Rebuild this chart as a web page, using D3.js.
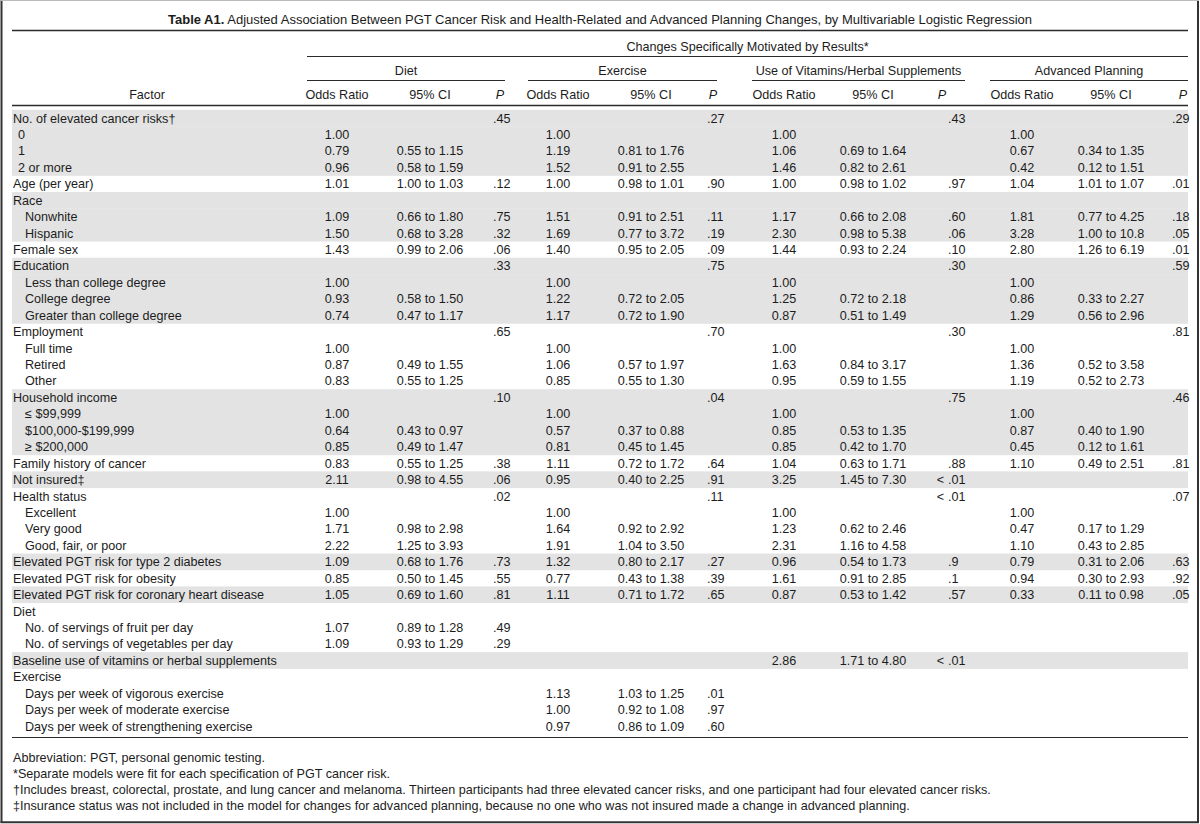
<!DOCTYPE html>
<html><head><meta charset="utf-8">
<script src="https://cdn.jsdelivr.net/npm/d3@7/dist/d3.min.js"></script>
<style>
html,body{margin:0;padding:0;background:#fff;}
svg text{font-family:"Liberation Sans",Arial,Helvetica,sans-serif;font-size:12.6px;fill:#1c1c1c;}
svg text.title{font-size:13px;}
</style></head>
<body><svg id="c" width="1200" height="824"></svg>
<script>
const titleBold = "Table A1.";
const titleRest = " Adjusted Association Between PGT Cancer Risk and Health-Related and Advanced Planning Changes, by Multivariable Logistic Regression";
const spanner = "Changes Specifically Motivated by Results*";
const outcomes = ["Diet", "Exercise", "Use of Vitamins/Herbal Supplements", "Advanced Planning"];
const colHeads = ["Odds Ratio", "95% CI", "P"];

const factors = [
 "No. of elevated cancer risks\u2020","0","1","2 or more","Age (per year)","Race","Nonwhite","Hispanic","Female sex",
 "Education","Less than college degree","College degree","Greater than college degree",
 "Employment","Full time","Retired","Other",
 "Household income","\u2264 $99,999","$100,000-$199,999","\u2265 $200,000",
 "Family history of cancer","Not insured\u2021","Health status","Excellent","Very good","Good, fair, or poor",
 "Elevated PGT risk for type 2 diabetes","Elevated PGT risk for obesity","Elevated PGT risk for coronary heart disease",
 "Diet","No. of servings of fruit per day","No. of servings of vegetables per day",
 "Baseline use of vitamins or herbal supplements",
 "Exercise","Days per week of vigorous exercise","Days per week of moderate exercise","Days per week of strengthening exercise"
];
const factorLevel = [0,1,1,1,0,0,2,2,0, 0,2,2,2, 0,2,2,2, 0,2,2,2, 0,0,0,2,2,2, 0,0,0, 0,2,2, 0, 0,2,2,2];
const shaded = [1,1,1,1,0,1,1,1,0, 1,1,1,1, 0,0,0,0, 1,1,1,1, 0,1,0,0,0,0, 1,0,1, 0,0,0, 1, 0,0,0,0];

const dietOR = ["","1.00","0.79","0.96","1.01","","1.09","1.50","1.43","","1.00","0.93","0.74","","1.00","0.87","0.83","","1.00","0.64","0.85","0.83","2.11","","1.00","1.71","2.22","1.09","0.85","1.05","","1.07","1.09","","","","",""];
const dietCI = ["","","0.55 to 1.15","0.58 to 1.59","1.00 to 1.03","","0.66 to 1.80","0.68 to 3.28","0.99 to 2.06","","","0.58 to 1.50","0.47 to 1.17","","","0.49 to 1.55","0.55 to 1.25","","","0.43 to 0.97","0.49 to 1.47","0.55 to 1.25","0.98 to 4.55","","","0.98 to 2.98","1.25 to 3.93","0.68 to 1.76","0.50 to 1.45","0.69 to 1.60","","0.89 to 1.28","0.93 to 1.29","","","","",""];
const dietP = [".45","","","",".12","",".75",".32",".06",".33","","","",".65","","","",".10","","","",".38",".06",".02","","","",".73",".55",".81","",".49",".29","","","","",""];

const exerOR = ["","1.00","1.19","1.52","1.00","","1.51","1.69","1.40","","1.00","1.22","1.17","","1.00","1.06","0.85","","1.00","0.57","0.81","1.11","0.95","","1.00","1.64","1.91","1.32","0.77","1.11","","","","","","1.13","1.00","0.97"];
const exerCI = ["","","0.81 to 1.76","0.91 to 2.55","0.98 to 1.01","","0.91 to 2.51","0.77 to 3.72","0.95 to 2.05","","","0.72 to 2.05","0.72 to 1.90","","","0.57 to 1.97","0.55 to 1.30","","","0.37 to 0.88","0.45 to 1.45","0.72 to 1.72","0.40 to 2.25","","","0.92 to 2.92","1.04 to 3.50","0.80 to 2.17","0.43 to 1.38","0.71 to 1.72","","","","","","1.03 to 1.25","0.92 to 1.08","0.86 to 1.09"];
const exerP = [".27","","","",".90","",".11",".19",".09",".75","","","",".70","","","",".04","","","",".64",".91",".11","","","",".27",".39",".65","","","","","",".01",".97",".60"];

const vitOR = ["","1.00","1.06","1.46","1.00","","1.17","2.30","1.44","","1.00","1.25","0.87","","1.00","1.63","0.95","","1.00","0.85","0.85","1.04","3.25","","1.00","1.23","2.31","0.96","1.61","0.87","","","","2.86","","","",""];
const vitCI = ["","","0.69 to 1.64","0.82 to 2.61","0.98 to 1.02","","0.66 to 2.08","0.98 to 5.38","0.93 to 2.24","","","0.72 to 2.18","0.51 to 1.49","","","0.84 to 3.17","0.59 to 1.55","","","0.53 to 1.35","0.42 to 1.70","0.63 to 1.71","1.45 to 7.30","","","0.62 to 2.46","1.16 to 4.58","0.54 to 1.73","0.91 to 2.85","0.53 to 1.42","","","","1.71 to 4.80","","","",""];
const vitP = [".43","","","",".97","",".60",".06",".10",".30","","","",".30","","","",".75","","","",".88","< .01","< .01","","","",".9",".1",".57","","","","< .01","","","",""];

const advOR = ["","1.00","0.67","0.42","1.04","","1.81","3.28","2.80","","1.00","0.86","1.29","","1.00","1.36","1.19","","1.00","0.87","0.45","1.10","","","1.00","0.47","1.10","0.79","0.94","0.33","","","","","","","",""];
const advCI = ["","","0.34 to 1.35","0.12 to 1.51","1.01 to 1.07","","0.77 to 4.25","1.00 to 10.8","1.26 to 6.19","","","0.33 to 2.27","0.56 to 2.96","","","0.52 to 3.58","0.52 to 2.73","","","0.40 to 1.90","0.12 to 1.61","0.49 to 2.51","","","","0.17 to 1.29","0.43 to 2.85","0.31 to 2.06","0.30 to 2.93","0.11 to 0.98","","","","","","","",""];
const advP = [".29","","","",".01","",".18",".05",".01",".59","","","",".81","","","",".46","","","",".81","",".07","","","",".63",".92",".05","","","","","","","",""];

const footnotes = [
 "Abbreviation: PGT, personal genomic testing.",
 "*Separate models were fit for each specification of PGT cancer risk.",
 "\u2020Includes breast, colorectal, prostate, and lung cancer and melanoma. Thirteen participants had three elevated cancer risks, and one participant had four elevated cancer risks.",
 "\u2021Insurance status was not included in the model for changes for advanced planning, because no one who was not insured made a change in advanced planning."
];

const seriesData = [[dietOR,dietCI,dietP],[exerOR,exerCI,exerP],[vitOR,vitCI,vitP],[advOR,advCI,advP]];

// ---- layout ----
const svg = d3.select("#c");
const W = 1200, H = 824, L = 12, R = 1188;
const lineCol = "#2a2a2a";
const rowScale = d3.scaleBand().domain(d3.range(factors.length)).range([109.8, 734.3]).paddingInner(0);
const rowY = i => rowScale(i) + rowScale.bandwidth()/2;

const groups = [
 {x0:307, x1:505, or:337, ci:430, p:493, ph:500},
 {x0:528, x1:717, or:558, ci:651, p:707, ph:713},
 {x0:752, x1:965, or:784, ci:873, p:948, ph:942},
 {x0:990, x1:1188, or:1022, ci:1111, p:1172, ph:1183}
];

// frame
svg.append("rect").attr("x",0).attr("y",0).attr("width",W).attr("height",H).attr("fill","#fff");
svg.append("line").attr("x1",1.5).attr("x2",1.5).attr("y1",0).attr("y2",823).attr("stroke","#333").attr("stroke-width",2);
svg.append("line").attr("x1",1198).attr("x2",1198).attr("y1",0).attr("y2",823).attr("stroke","#333").attr("stroke-width",2);
svg.append("line").attr("x1",0.5).attr("x2",1199).attr("y1",822.3).attr("y2",822.3).attr("stroke","#333").attr("stroke-width",2);
svg.append("line").attr("x1",0.5).attr("x2",1199).attr("y1",0.5).attr("y2",0.5).attr("stroke","#bbb").attr("stroke-width",1);

// title
const t = svg.append("text").attr("class","title").attr("x",600).attr("y",23.5).attr("text-anchor","middle");
t.append("tspan").attr("font-weight","bold").text(titleBold);
t.append("tspan").text(titleRest);
svg.append("line").attr("x1",L).attr("x2",R).attr("y1",30.5).attr("y2",30.5).attr("stroke",lineCol).attr("stroke-width",1.5);

// spanner
svg.append("text").attr("x",(groups[0].x0+R)/2).attr("y",50.5).attr("text-anchor","middle").text(spanner);
svg.append("line").attr("x1",groups[0].x0).attr("x2",R).attr("y1",56.5).attr("y2",56.5).attr("stroke",lineCol).attr("stroke-width",1.2);

// outcome headers
groups.forEach((g,k)=>{
  svg.append("text").attr("x",(g.x0+g.x1)/2).attr("y",74.5).attr("text-anchor","middle").text(outcomes[k]);
  svg.append("line").attr("x1",g.x0).attr("x2",g.x1).attr("y1",80.5).attr("y2",80.5).attr("stroke",lineCol).attr("stroke-width",1.2);
  svg.append("text").attr("x",g.or).attr("y",98.5).attr("text-anchor","middle").text(colHeads[0]);
  svg.append("text").attr("x",g.ci).attr("y",98.5).attr("text-anchor","middle").text(colHeads[1]);
  svg.append("text").attr("x",g.ph).attr("y",98.5).attr("text-anchor","middle").attr("font-style","italic").text(colHeads[2]);
});
svg.append("text").attr("x",147).attr("y",98.5).attr("text-anchor","middle").text("Factor");
svg.append("line").attr("x1",L).attr("x2",R).attr("y1",105.5).attr("y2",105.5).attr("stroke",lineCol).attr("stroke-width",1.6);

// row shading
svg.append("g").selectAll("rect").data(d3.range(factors.length).filter(i=>shaded[i]))
  .join("rect").attr("x",L).attr("width",R-L)
  .attr("y",i=>rowScale(i)).attr("height",rowScale.bandwidth()+0.3)
  .attr("fill","#e3e3e3");

// row labels
const indentX = [L+1, L+6, L+13];
svg.append("g").selectAll("text").data(factors).join("text")
  .attr("x",(d,i)=>indentX[factorLevel[i]]).attr("y",(d,i)=>rowY(i)+4.5).text(d=>d);

// cells
seriesData.forEach((s,k)=>{
  const g = groups[k];
  const gg = svg.append("g");
  gg.selectAll("text.or").data(s[0]).join("text").attr("class","or")
    .attr("x",g.or).attr("y",(d,i)=>rowY(i)+4.5).attr("text-anchor","middle").text(d=>d);
  gg.selectAll("text.ci").data(s[1]).join("text").attr("class","ci")
    .attr("x",g.ci).attr("y",(d,i)=>rowY(i)+4.5).attr("text-anchor","middle").text(d=>d);
  s[2].forEach((d,i)=>{
    if(!d) return;
    if(d.startsWith("<")){
      gg.append("text").attr("x",g.p-4).attr("y",rowY(i)+4.5).attr("text-anchor","end").text("<");
      gg.append("text").attr("x",g.p).attr("y",rowY(i)+4.5).text(d.replace("<","").trim());
    } else {
      gg.append("text").attr("x",g.p).attr("y",rowY(i)+4.5).text(d);
    }
  });
});

// bottom rule
svg.append("line").attr("x1",L).attr("x2",R).attr("y1",737.5).attr("y2",737.5).attr("stroke",lineCol).attr("stroke-width",1.2);

// footnotes
svg.append("g").selectAll("text").data(footnotes).join("text")
  .attr("x",L+1).attr("y",(d,i)=>761.5+i*16.2).text(d=>d);
</script></body></html>
